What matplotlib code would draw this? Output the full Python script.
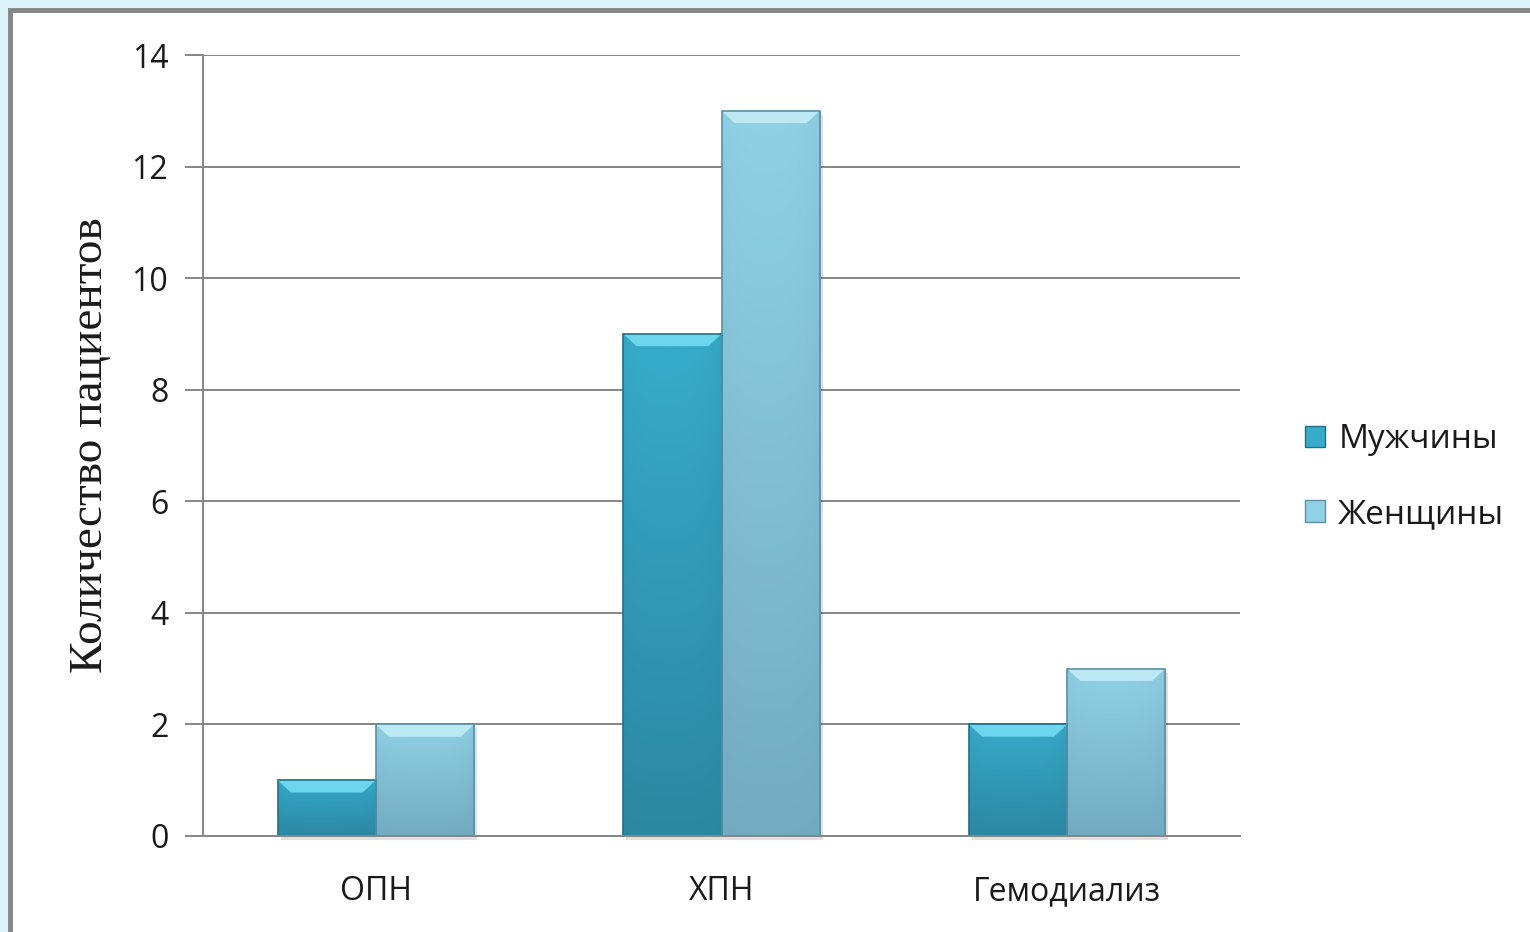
import numpy as np
import matplotlib
matplotlib.use("Agg")
import matplotlib.pyplot as plt
from matplotlib.patches import Rectangle, Polygon, Patch
from matplotlib.colors import LinearSegmentedColormap
import matplotlib.transforms as mtransforms

categories = ["ОПН", "ХПН", "Гемодиализ"]
men = [1, 9, 2]
women = [2, 13, 3]
series_names = ["Мужчины", "Женщины"]
yticks = [0, 2, 4, 6, 8, 10, 12, 14]

W, H = 1530, 932
fig = plt.figure(figsize=(W / 100, H / 100), dpi=100)
fig.patch.set_facecolor("#dcf3f9")

# white panel with gray frame
fig.patches.append(Rectangle((10 / W, -0.05), 1.2, 1 - 10 / H + 0.05,
                             transform=fig.transFigure, facecolor="white",
                             edgecolor="#858585", linewidth=3.5, zorder=-5))

ax = fig.add_axes([203 / W, 96 / H, (1240 - 203) / W, (836 - 55) / H])
ax.set_facecolor("none")

x = np.arange(len(categories))
bw = 0.284

# colours: (top, bottom, bevel, edge)
styles = [("#36acca", "#2a819c", "#6bd6ee", "#1f6f88"),
          ("#90d1e6", "#6ea5bb", "#bde9f5", "#5a8fa5")]

bars_m = ax.bar(x - bw / 2, men, bw, color=styles[0][0], zorder=3, linewidth=0)
bars_w = ax.bar(x + bw / 2, women, bw, color=styles[1][0], zorder=3, linewidth=0)

ax.set_xlim(-0.5, 2.5)
ax.set_ylim(0, 14)

shadow_tr = ax.transData + mtransforms.ScaledTranslation(3 / 100, -4 / 100, fig.dpi_scale_trans)

for bars, (ctop, cbot, cbev, cedge) in zip([bars_m, bars_w], styles):
    cmap = LinearSegmentedColormap.from_list("g", [cbot, ctop])
    for b in bars:
        x0, w, h = b.get_x(), b.get_width(), b.get_height()
        yy = np.linspace(0, 1, 100)[:, None]
        xx = np.linspace(0, 1, 50)[None, :]
        side = 1 - 0.18 * (np.abs(xx - 0.45) / 0.55) ** 3
        grad = (0.15 + 0.85 * yy) * side
        im = ax.imshow(grad, extent=(x0, x0 + w, 0, h), origin="lower",
                       cmap=cmap, vmin=0, vmax=1, aspect="auto", zorder=3.1,
                       interpolation="bilinear")
        im.set_clip_path(b)
        dy = 0.22
        dx = 0.038
        ax.add_patch(Polygon([(x0, h), (x0 + w, h), (x0 + w - dx, h - dy),
                              (x0 + dx, h - dy)], closed=True,
                             facecolor=cbev, edgecolor="none", zorder=3.2))
        ax.add_patch(Rectangle((x0, 0), w, h, facecolor="none",
                               edgecolor=cedge, linewidth=1.2, zorder=3.3))
        ax.add_patch(Rectangle((x0, 0), w, h, facecolor="#000000",
                               alpha=0.12, edgecolor="none", zorder=2.9,
                               transform=shadow_tr, clip_on=False))

ax.set_yticks(yticks)
ax.yaxis.grid(True, color="#868686", linewidth=1.4, zorder=0)
ax.set_axisbelow(True)
ax.set_xticks(x)
ax.set_xticklabels(categories)

for s in ["top", "right"]:
    ax.spines[s].set_visible(False)
for s in ["left", "bottom"]:
    ax.spines[s].set_color("#868686")
    ax.spines[s].set_linewidth(1.4)
    ax.spines[s].set_zorder(4)

ax.tick_params(axis="y", length=13, width=1.4, color="#868686", pad=12,
               labelsize=23, labelcolor="#1a1a1a")
ax.tick_params(axis="x", length=0, pad=28, labelsize=23, labelcolor="#1a1a1a")
for lab in ax.get_xticklabels() + ax.get_yticklabels():
    lab.set_fontfamily("Open Sans")

ax.set_ylabel("Количество пациентов", family="Liberation Serif", fontsize=34,
              labelpad=14, color="#1a1a1a")

handles = [Patch(facecolor=styles[0][0], edgecolor=styles[0][3]),
           Patch(facecolor=styles[1][0], edgecolor=styles[1][3])]
leg = fig.legend(handles, series_names, loc="center left",
                 bbox_to_anchor=(1275 / W, 1 - 477 / H), frameon=False,
                 prop={"family": "Open Sans", "size": 24},
                 handlelength=0.6, handleheight=0.6, handletextpad=0.4,
                 labelspacing=1.25)
for t in leg.get_texts():
    t.set_color("#1a1a1a")

fig.savefig("out.png", dpi=100, facecolor=fig.get_facecolor())
